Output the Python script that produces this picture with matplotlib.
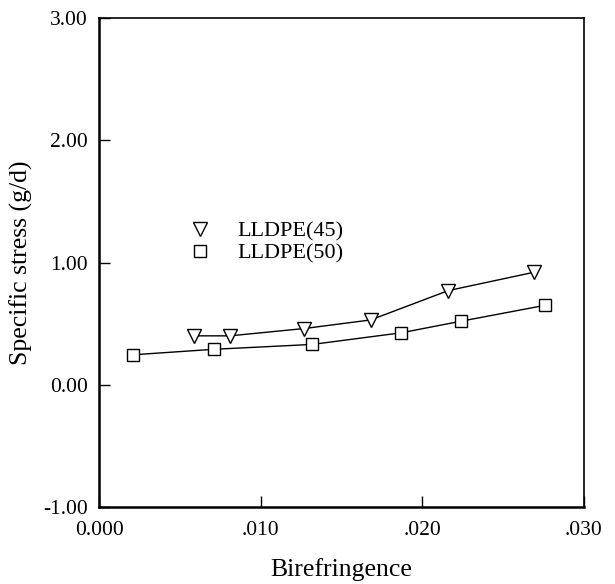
import matplotlib.pyplot as plt

# Birefringence vs specific stress
x45 = [0.0059, 0.0081, 0.0127, 0.0168, 0.0216, 0.0269]
y45 = [0.40, 0.40, 0.46, 0.53, 0.77, 0.92]
x50 = [0.0021, 0.0071, 0.0132, 0.0187, 0.0224, 0.0276]
y50 = [0.245, 0.29, 0.33, 0.425, 0.52, 0.65]

xticks = [0.0, 0.01, 0.02, 0.03]
xlabels = ['0.000', '.010', '.020', '.030']
yticks = [-1.0, 0.0, 1.0, 2.0, 3.0]
ylabels = ['-1.00', '0.00', '1.00', '2.00', '3.00']

plt.rcParams['font.family'] = ['Liberation Serif', 'DejaVu Serif']

fig = plt.figure(figsize=(6.15, 5.84), dpi=100)
ax = fig.add_axes([99 / 615, 77 / 584, 485 / 615, 489 / 584])

ax.plot(x45, y45, color='black', lw=1, marker='v', ms=10, mfc='white',
        mec='black', mew=1, label='LLDPE(45)')
ax.plot(x50, y50, color='black', lw=1, marker='s', ms=8, mfc='white',
        mec='black', mew=1, label='LLDPE(50)')

ax.set_xlim(0, 0.03)
ax.set_ylim(-1, 3)
ax.set_xticks(xticks)
ax.set_xticklabels(xlabels)
ax.set_yticks(yticks)
ax.set_yticklabels(ylabels)
ax.tick_params(direction='in', length=8, width=1, labelsize=15.5)
ax.tick_params(axis='x', pad=10)
ax.tick_params(axis='y', pad=8)
ax.spines['left'].set_linewidth(1.8)
ax.spines['bottom'].set_linewidth(1.8)
ax.spines['top'].set_linewidth(1.2)
ax.spines['right'].set_linewidth(1.2)

ax.set_xlabel('Birefringence', fontsize=18.5, labelpad=13)
ax.set_ylabel('Specific stress (g/d)', fontsize=18.5, labelpad=7)

leg = ax.legend(loc='upper left', bbox_to_anchor=(0.167, 0.625), frameon=False,
                fontsize=16, handlelength=0, handletextpad=1.7,
                labelspacing=0.05)
for line in leg.get_lines():
    line.set_linestyle('')

fig.savefig('out.png', dpi=100)
